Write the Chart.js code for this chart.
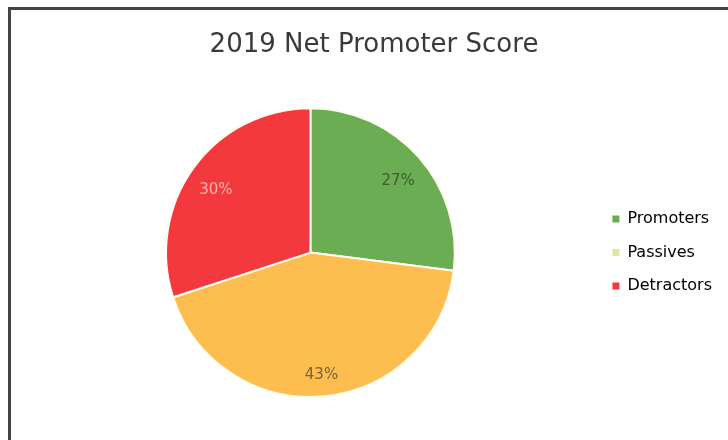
<!DOCTYPE html>
<html>
<head>
<meta charset="utf-8">
<script src="https://cdn.jsdelivr.net/npm/chart.js@4.4.1/dist/chart.umd.min.js"></script>
<style>
  html, body { margin: 0; padding: 0; background: #fff; }
  .frame {
    position: absolute;
    left: 8px;
    top: 7px;
    width: 740px;
    height: 460px;
    border-top: 3px solid #444;
    border-left: 3px solid #444;
  }
  #chart { position: absolute; left: 0; top: 0; }
</style>
</head>
<body>
<div class="frame"></div>
<canvas id="chart" width="728" height="440"></canvas>
<script>
// NPS breakdown, percent of respondents
const labels = ['Promoters', 'Passives', 'Detractors']
const shares = [27, 43, 30]
const sliceColors = ['#6aad52', '#fdbd4f', '#f4393e']
const legendColors = ['#6aad52', '#e3e69c', '#f4393e']
const valueColors = ['#3f5c2e', '#776536', '#f8b4ae']

const fontFamily = "'DejaVu Sans', sans-serif"

// percent text inside each slice, placed out towards the rim
const sliceLabels = {
  id: 'sliceLabels',
  afterDatasetsDraw(chart) {
    const ctx = chart.ctx
    const meta = chart.getDatasetMeta(0)
    ctx.save()
    ctx.font = '15px ' + fontFamily
    ctx.textAlign = 'center'
    ctx.textBaseline = 'middle'
    meta.data.forEach((arc, i) => {
      const p = arc.getProps(['x', 'y', 'startAngle', 'endAngle', 'outerRadius'], true)
      const mid = (p.startAngle + p.endAngle) / 2
      const r = p.outerRadius * 0.81
      ctx.fillStyle = valueColors[i]
      ctx.fillText(shares[i] + '%', p.x + Math.cos(mid) * r, p.y + Math.sin(mid) * r + 6)
    })
    ctx.restore()
  }
}

let ctx = document.getElementById('chart')

let chart = new Chart(ctx, {
  type: 'pie',
  data: {
    labels: labels,
    datasets: [{
      data: shares,
      backgroundColor: sliceColors,
      borderColor: '#fffdf0',
      borderWidth: 2
    }]
  },
  options: {
    responsive: false,
    animation: false,
    layout: {
      padding: { top: 0, bottom: 42, left: 26, right: 6 }
    },
    plugins: {
      title: {
        display: true,
        text: '2019 Net Promoter Score',
        color: '#3a3a3a',
        font: { family: fontFamily, size: 26, weight: 'normal' },
        padding: { top: 30, bottom: 46 }
      },
      legend: {
        position: 'right',
        fullSize: false,
        labels: {
          boxWidth: 7,
          boxHeight: 7,
          padding: 17.5,
          color: '#333',
          font: { family: fontFamily, size: 16 },
          generateLabels(c) {
            return labels.map((text, i) => ({
              text: text,
              fillStyle: legendColors[i],
              strokeStyle: legendColors[i],
              lineWidth: 0,
              index: i
            }))
          }
        }
      },
      tooltip: { enabled: false }
    }
  },
  plugins: [sliceLabels]
})
</script>
</body>
</html>
